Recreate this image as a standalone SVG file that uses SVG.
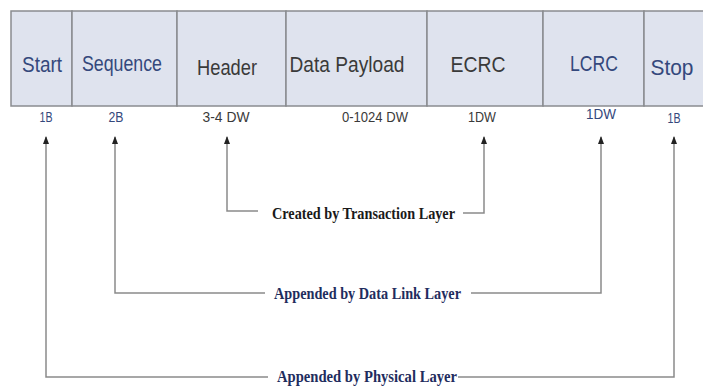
<svg xmlns="http://www.w3.org/2000/svg" width="703" height="387" viewBox="0 0 703 387">
<style>
.cell{fill:#dfe3ee;stroke:#8a8c90;stroke-width:1.5}
.h{font-family:"Liberation Sans",Arial,sans-serif;font-size:22px;text-anchor:middle}
.s{font-family:"Liberation Sans",Arial,sans-serif;font-size:14px;text-anchor:middle}
.blue{fill:#34487c}
.gray{fill:#3a3a3a}
.lbl{font-family:"Liberation Serif","Times New Roman",serif;font-weight:bold;font-size:16px}
.conn{fill:none;stroke:#8a8a8a;stroke-width:1.5}
</style>
<defs>
<marker id="ah" markerWidth="8" markerHeight="6" refX="7" refY="3" orient="auto" markerUnits="userSpaceOnUse" viewBox="0 0 8 6">
<path d="M0,0 L8,3 L0,6 Z" fill="#222"/>
</marker>
</defs>
<g id="start"><rect class="cell" x="11" y="11" width="61" height="95"/><text class="h blue" x="42" y="72" textLength="40" lengthAdjust="spacingAndGlyphs">Start</text><text class="s blue" x="46" y="122" textLength="13" lengthAdjust="spacingAndGlyphs">1B</text></g>
<g id="sequence"><rect class="cell" x="72" y="11" width="105" height="95"/><text class="h blue" x="122" y="71" textLength="80" lengthAdjust="spacingAndGlyphs">Sequence</text><text class="s blue" x="116" y="122" textLength="15" lengthAdjust="spacingAndGlyphs">2B</text></g>
<g id="header"><rect class="cell" x="177" y="11" width="109" height="95"/><text class="h gray" x="227" y="75" textLength="60" lengthAdjust="spacingAndGlyphs">Header</text><text class="s gray" x="226" y="122" textLength="47" lengthAdjust="spacingAndGlyphs">3-4 DW</text></g>
<g id="payload"><rect class="cell" x="286" y="11" width="141" height="95"/><text class="h gray" x="347" y="72" textLength="115" lengthAdjust="spacingAndGlyphs">Data Payload</text><text class="s gray" x="375" y="122" textLength="66" lengthAdjust="spacingAndGlyphs">0-1024 DW</text></g>
<g id="ecrc"><rect class="cell" x="427" y="11" width="116" height="95"/><text class="h gray" x="478" y="72" textLength="55" lengthAdjust="spacingAndGlyphs">ECRC</text><text class="s gray" x="482" y="122" textLength="28" lengthAdjust="spacingAndGlyphs">1DW</text></g>
<g id="lcrc"><rect class="cell" x="543" y="11" width="101" height="95"/><text class="h blue" x="594" y="71" textLength="48" lengthAdjust="spacingAndGlyphs">LCRC</text><text class="s blue" x="601" y="119" textLength="30" lengthAdjust="spacingAndGlyphs">1DW</text></g>
<g id="stop"><rect class="cell" x="644" y="11" width="62" height="95"/><text class="h blue" x="672" y="75" textLength="43" lengthAdjust="spacingAndGlyphs">Stop</text><text class="s blue" x="674" y="123" textLength="13" lengthAdjust="spacingAndGlyphs">1B</text></g>
<g id="connectors">
<polyline class="conn" points="258,211 227,211 227,137" marker-end="url(#ah)"/>
<polyline class="conn" points="463,213 484,213 484,137" marker-end="url(#ah)"/>
<polyline class="conn" points="265,293 115,293 115,137" marker-end="url(#ah)"/>
<polyline class="conn" points="471,293 601,293 601,137" marker-end="url(#ah)"/>
<polyline class="conn" points="268,377 46,377 46,137" marker-end="url(#ah)"/>
<polyline class="conn" points="458,377 674,377 674,137" marker-end="url(#ah)"/>
</g>
<g id="labels">
<text class="lbl" x="272" y="219" fill="#1a1a1a" textLength="183" lengthAdjust="spacingAndGlyphs">Created by Transaction Layer</text>
<text class="lbl" x="274" y="299" fill="#1f2d5e" textLength="187" lengthAdjust="spacingAndGlyphs">Appended by Data Link Layer</text>
<text class="lbl" x="277" y="382" fill="#1f2d5e" textLength="180" lengthAdjust="spacingAndGlyphs">Appended by Physical Layer</text>
</g>
</svg>
